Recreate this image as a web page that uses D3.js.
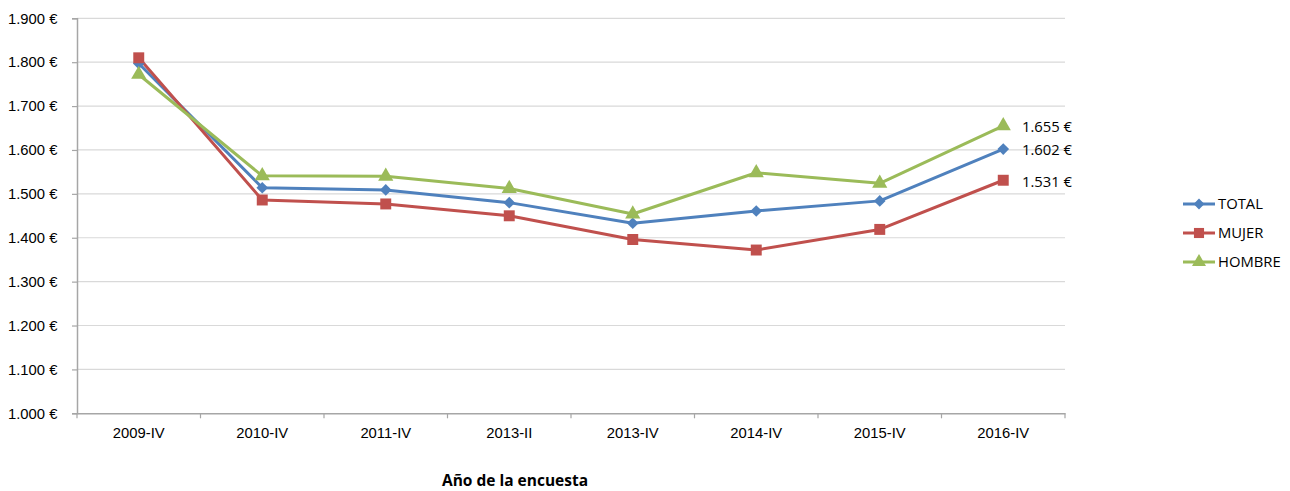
<!DOCTYPE html>
<html><head><meta charset="utf-8">
<script src="https://cdn.jsdelivr.net/npm/d3@7"></script>
<style>body{margin:0;background:#fff;} svg{display:block;font-family:"Open Sans","Liberation Sans",sans-serif;}</style>
</head><body>
<svg id="c" width="1290" height="491"></svg>
<script>
const categories = ["2009-IV","2010-IV","2011-IV","2013-II","2013-IV","2014-IV","2015-IV","2016-IV"];
const total  = [1797,1514,1509,1480,1433,1461,1484,1602];
const mujer  = [1810,1486,1477,1450,1396,1372,1419,1531];
const hombre = [1772,1541,1540,1512,1454,1548,1524,1655];
const yTicks = [1000,1100,1200,1300,1400,1500,1600,1700,1800,1900];
const seriesNames = ["TOTAL","MUJER","HOMBRE"];
const seriesColors = ["#4f81bd","#c0504d","#9bbb59"];
const series = [total, mujer, hombre];

const svg = d3.select("#c");
const L=77, R=1065, T=18.3, B=413.3;
const x = d3.scaleBand().domain(categories).range([L,R]);
const y = d3.scaleLinear().domain([1000,1900]).range([B,T]);
const fmt = v => d3.format(",")(v).replace(/,/g,".") + " €";
const FS = 14.8;

function marker(sel, k, scale){
  scale = scale||1;
  if(k===0){
    sel.append("path").attr("d",d3.symbol().type(d3.symbolSquare).size(68*scale))
      .attr("transform","rotate(45)").attr("fill",seriesColors[k]);
  } else if(k===1){
    sel.append("path").attr("d",d3.symbol().type(d3.symbolSquare).size(120*scale)).attr("fill",seriesColors[k]);
  } else {
    sel.append("path").attr("d",d3.symbol().type(d3.symbolTriangle).size(100*scale)).attr("fill",seriesColors[k]);
  }
}

svg.append("g").selectAll("line").data(yTicks.slice(1)).join("line")
  .attr("x1",L).attr("x2",R).attr("y1",d=>y(d)).attr("y2",d=>y(d))
  .attr("stroke","#d9d9d9").attr("stroke-width",1.2);

const ya = svg.append("g").attr("transform",`translate(${L},0)`)
  .call(d3.axisLeft(y).tickValues(yTicks).tickFormat(fmt).tickSize(5).tickPadding(13));
ya.select(".domain").attr("stroke","#a6a6a6").attr("stroke-width",1.5);
ya.selectAll(".tick line").attr("stroke","#a6a6a6").attr("stroke-width",1.2);
ya.selectAll("text").attr("font-size",FS).attr("fill","#000").attr("text-anchor","start").attr("x",-69);

const xa = svg.append("g").attr("transform",`translate(0,${B})`)
  .call(d3.axisBottom(x).tickSize(0).tickPadding(14));
xa.select(".domain").attr("stroke","#a6a6a6").attr("stroke-width",1.5);
xa.selectAll("text").attr("font-size",FS).attr("fill","#000");
svg.append("g").selectAll("line").data(d3.range(categories.length+1)).join("line")
  .attr("x1",i=>L+i*x.step()).attr("x2",i=>L+i*x.step())
  .attr("y1",B).attr("y2",B+5).attr("stroke","#a6a6a6").attr("stroke-width",1.2);

const line = d3.line().x((d,i)=>x(categories[i])+x.bandwidth()/2).y(d=>y(d));
series.forEach((s,k)=>{
  svg.append("path").datum(s).attr("d",line).attr("fill","none")
    .attr("stroke",seriesColors[k]).attr("stroke-width",3).attr("stroke-linejoin","round");
});
series.forEach((s,k)=>{
  svg.append("g").selectAll("g").data(s).join("g")
    .attr("transform",(d,i)=>`translate(${x(categories[i])+x.bandwidth()/2},${y(d)})`)
    .each(function(){ marker(d3.select(this), k); });
});

const last = categories.length-1;
const labelOffsets = [1, 2, 1];
series.forEach((s,k)=>{
  svg.append("text").attr("x",1022).attr("y",y(s[last])+labelOffsets[k])
    .attr("dy","0.35em").attr("font-size",FS).attr("fill","#000").text(fmt(s[last]));
});

seriesNames.forEach((n,k)=>{
  const ly = 204 + k*29;
  const g = svg.append("g");
  g.append("line").attr("x1",1183).attr("x2",1215).attr("y1",ly).attr("y2",ly)
    .attr("stroke",seriesColors[k]).attr("stroke-width",3);
  marker(g.append("g").attr("transform",`translate(1199,${ly})`), k, 0.85);
  g.append("text").attr("x",1218).attr("y",ly).attr("dy","0.35em")
    .attr("font-size",FS).attr("fill","#000").text(n);
});

svg.append("text").attr("x",515).attr("y",481).attr("dy","0.35em")
  .attr("text-anchor","middle").attr("font-size",15.5).attr("font-weight","bold")
  .attr("fill","#000").text("Año de la encuesta");
</script>
</body></html>
